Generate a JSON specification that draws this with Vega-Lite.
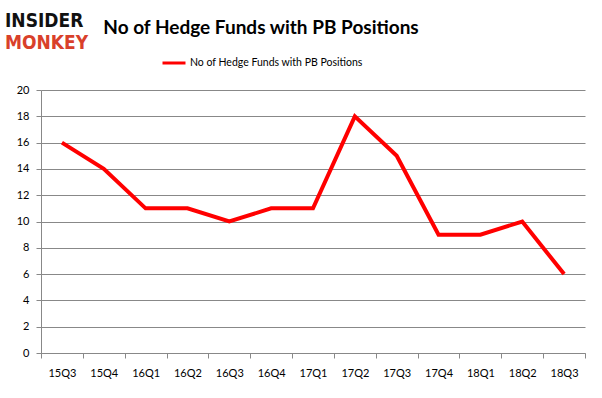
{
  "$schema": "https://vega.github.io/schema/vega-lite/v6.json",
  "width": 544,
  "height": 263,
  "autosize": {"type": "none"},
  "padding": {"left": 41, "top": 90, "right": 17, "bottom": 45},
  "background": "white",
  "title": {
    "text": "No of Hedge Funds with PB Positions",
    "anchor": "middle",
    "frame": "group",
    "dx": -52,
    "dy": 26,
    "font": "Lato",
    "fontSize": 19,
    "fontWeight": "bold",
    "color": "black",
    "offset": 0
  },
  "config": {
    "view": {"stroke": null},
    "axis": {
      "labelFont": "Lato",
      "labelFontSize": 11,
      "labelColor": "black",
      "domainColor": "#888888",
      "tickColor": "#888888",
      "gridColor": "#888888",
      "tickSize": 5,
      "title": null
    }
  },
  "layer": [
    {
      "data": {
        "values": [
          {"quarter": "15Q3", "funds": 16, "series": "No of Hedge Funds with PB Positions"},
          {"quarter": "15Q4", "funds": 14, "series": "No of Hedge Funds with PB Positions"},
          {"quarter": "16Q1", "funds": 11, "series": "No of Hedge Funds with PB Positions"},
          {"quarter": "16Q2", "funds": 11, "series": "No of Hedge Funds with PB Positions"},
          {"quarter": "16Q3", "funds": 10, "series": "No of Hedge Funds with PB Positions"},
          {"quarter": "16Q4", "funds": 11, "series": "No of Hedge Funds with PB Positions"},
          {"quarter": "17Q1", "funds": 11, "series": "No of Hedge Funds with PB Positions"},
          {"quarter": "17Q2", "funds": 18, "series": "No of Hedge Funds with PB Positions"},
          {"quarter": "17Q3", "funds": 15, "series": "No of Hedge Funds with PB Positions"},
          {"quarter": "17Q4", "funds": 9, "series": "No of Hedge Funds with PB Positions"},
          {"quarter": "18Q1", "funds": 9, "series": "No of Hedge Funds with PB Positions"},
          {"quarter": "18Q2", "funds": 10, "series": "No of Hedge Funds with PB Positions"},
          {"quarter": "18Q3", "funds": 6, "series": "No of Hedge Funds with PB Positions"}
        ]
      },
      "mark": {"type": "line", "strokeWidth": 4, "strokeJoin": "miter"},
      "encoding": {
        "x": {
          "field": "quarter",
          "type": "ordinal",
          "sort": null,
          "bandPosition": 0.5,
          "scale": {"type": "band", "paddingInner": 0, "paddingOuter": 0},
          "axis": {"labelAngle": 0, "tickBand": "extent", "labelPadding": 9, "grid": false}
        },
        "y": {
          "field": "funds",
          "type": "quantitative",
          "scale": {"domain": [0, 20], "nice": false},
          "axis": {"values": [0, 2, 4, 6, 8, 10, 12, 14, 16, 18, 20], "grid": true, "labelPadding": 7}
        },
        "color": {
          "field": "series",
          "type": "nominal",
          "scale": {"range": ["#ff0000"]},
          "legend": {
            "title": null,
            "orient": "none",
            "legendX": 120,
            "legendY": -40,
            "symbolType": "stroke",
            "symbolSize": 529,
            "symbolStrokeWidth": 3,
            "labelFont": "Lato",
            "labelFontSize": 10.5,
            "labelColor": "black",
            "labelOffset": 3,
            "labelLimit": 400
          }
        }
      }
    },
    {
      "data": {"values": [{"word": "INSIDER", "row": "a"}, {"word": "MONKEY", "row": "b"}]},
      "mark": {"type": "text", "align": "left", "baseline": "alphabetic", "font": "DejaVu Sans Condensed", "fontWeight": "bold", "fontSize": 19},
      "encoding": {
        "text": {"field": "word"},
        "x": {"value": -36},
        "y": {"field": "row", "type": "nominal", "scale": {"type": "point", "padding": 0, "range": [-63, -41]}, "axis": null},
        "color": {"field": "row", "type": "nominal", "scale": {"domain": ["a", "b"], "range": ["#111111", "#d9402a"]}, "legend": null}
      }
    }
  ],
  "resolve": {"scale": {"y": "independent", "color": "independent"}}
}
